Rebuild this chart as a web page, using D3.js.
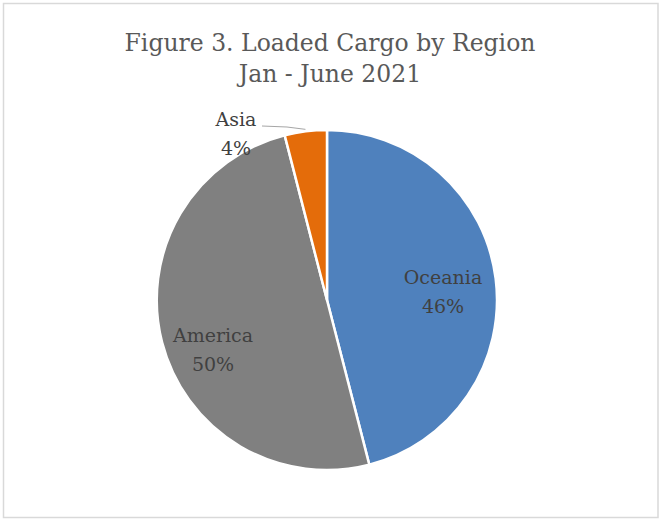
<!DOCTYPE html>
<html>
<head>
<meta charset="utf-8">
<script src="https://cdn.jsdelivr.net/npm/d3@7"></script>
<style>
  body { margin: 0; background: #fff; }
  svg { display: block; }
</style>
</head>
<body>
<script>
/* CONSTANTS AND GLOBALS */
const width = 663,
  height = 521;

/* DATA */
const regions = ["Oceania", "America", "Asia"];
const shares = [46, 50, 4];
const sliceColors = ["#4f81bd", "#808080", "#e46c0a"];
const titleLines = ["Figure 3. Loaded Cargo by Region", "Jan - June 2021"];

const data = regions.map((r, i) => ({ region: r, value: shares[i] }));

const svg = d3.select("body")
  .append("svg")
  .attr("width", width)
  .attr("height", height);

// outer chart border
svg.append("rect")
  .attr("x", 3.5)
  .attr("y", 3.5)
  .attr("width", 654.5)
  .attr("height", 514)
  .attr("fill", "#fff")
  .attr("stroke", "#d9d9d9")
  .attr("stroke-width", 1.5);

// title
svg.append("text")
  .attr("text-anchor", "middle")
  .attr("font-family", "'DejaVu Serif', serif")
  .attr("font-size", "23.5px")
  .attr("fill", "#595959")
  .selectAll("tspan")
  .data(titleLines)
  .join("tspan")
  .attr("x", 330)
  .attr("y", (d, i) => 51 + i * 31)
  .text(d => d);

const cx = 327, cy = 300, radius = 170;

const pie = d3.pie()
  .value(d => d.value)
  .sort(null);

const arc = d3.arc()
  .innerRadius(0)
  .outerRadius(radius);

const color = d3.scaleOrdinal()
  .domain(regions)
  .range(sliceColors);

const arcs = pie(data);

const g = svg.append("g")
  .attr("transform", `translate(${cx}, ${cy})`);

g.selectAll("path")
  .data(arcs)
  .join("path")
  .attr("d", arc)
  .attr("fill", d => color(d.data.region))
  .attr("stroke", "#fff")
  .attr("stroke-width", 2.5)
  .attr("stroke-linejoin", "round");

// label positions (offsets from the pie centre)
const labelPos = {
  Oceania: [116, -16],
  America: [-114, 42],
  Asia: [-91, -174]
};

const labels = g.selectAll("text.lbl")
  .data(arcs)
  .join("text")
  .attr("class", "lbl")
  .attr("text-anchor", "middle")
  .attr("font-family", "'DejaVu Serif', serif")
  .attr("font-size", "19px")
  .attr("fill", "#404040");

labels.append("tspan")
  .attr("x", d => labelPos[d.data.region][0])
  .attr("y", d => labelPos[d.data.region][1])
  .text(d => d.data.region);

labels.append("tspan")
  .attr("x", d => labelPos[d.data.region][0])
  .attr("y", d => labelPos[d.data.region][1] + 29)
  .text(d => Math.round(d.data.value) + "%");

// leader line for the small Asia slice
const asia = arcs.find(d => d.data.region === "Asia");
const mid = (asia.startAngle + asia.endAngle) / 2;
const edge = [Math.sin(mid) * (radius + 2), -Math.cos(mid) * (radius + 2)];
g.append("polyline")
  .attr("points", [[-65, -174], [-40, -173], edge].map(p => p.join(",")).join(" "))
  .attr("fill", "none")
  .attr("stroke", "#a6a6a6")
  .attr("stroke-width", 1);
</script>
</body>
</html>
